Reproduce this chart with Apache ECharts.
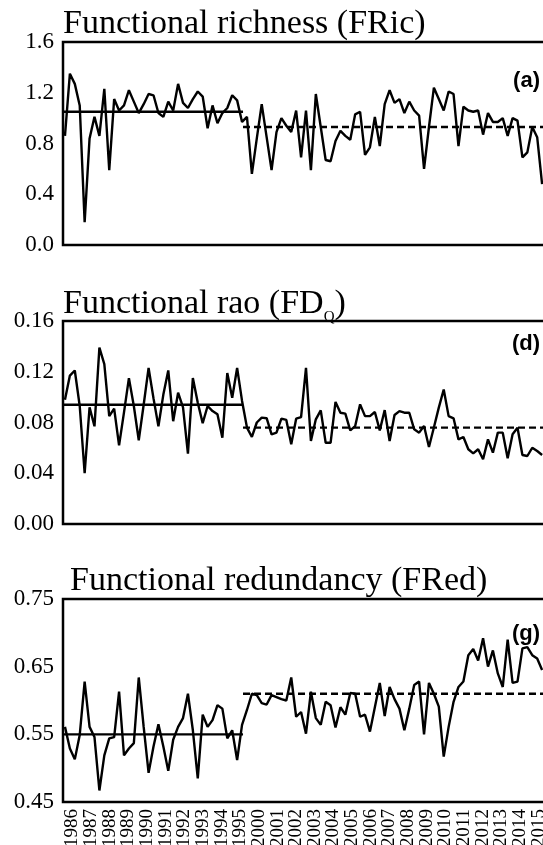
<!DOCTYPE html>
<html>
<head>
<meta charset="utf-8">
<script src="https://cdn.jsdelivr.net/npm/echarts@6/dist/echarts.min.js"></script>
<style>
  html, body { margin: 0; padding: 0; overflow: hidden; background: #fff; }
  #chart { width: 560px; height: 845px; }
</style>
</head>
<body>
<div id="chart"></div>
<script>
// Year labels along the shared time axis (sampling gap 1996-1999)
const years = ['1986','1987','1988','1989','1990','1991','1992','1993','1994','1995',
  '2000','2001','2002','2003','2004','2005','2006','2007','2008','2009',
  '2010','2011','2012','2013','2014','2015'];

// Functional richness (FRic), one value per sampling campaign
const fric = [0.86,1.35,1.27,1.10,0.18,0.84,1.01,0.86,1.23,0.59,
  1.15,1.06,1.10,1.22,1.13,1.04,1.11,1.19,1.18,1.04,
  1.01,1.13,1.06,1.27,1.12,1.08,1.15,1.21,1.17,0.92,
  1.10,0.96,1.04,1.08,1.18,1.14,0.97,1.01,0.56,0.84,
  1.11,0.85,0.59,0.89,1.00,0.94,0.89,1.06,0.69,1.06,
  0.59,1.19,0.93,0.67,0.66,0.82,0.90,0.86,0.83,1.03,
  1.05,0.71,0.77,1.01,0.78,1.11,1.22,1.12,1.15,1.04,
  1.13,1.06,1.02,0.60,0.93,1.24,1.15,1.06,1.21,1.19,
  0.78,1.09,1.06,1.05,1.06,0.87,1.04,0.97,0.97,1.00,
  0.86,1.00,0.98,0.69,0.73,0.93,0.85,0.48];

// Functional Rao's quadratic entropy (FDQ)
const fdq = [0.098,0.117,0.121,0.093,0.040,0.092,0.077,0.139,0.126,0.085,
  0.091,0.062,0.088,0.115,0.093,0.066,0.094,0.123,0.099,0.077,
  0.102,0.121,0.081,0.1035,0.092,0.0555,0.115,0.0955,0.0795,0.093,
  0.089,0.0865,0.068,0.119,0.0995,0.123,0.097,0.076,0.0686,0.080,
  0.0838,0.0834,0.0707,0.072,0.083,0.082,0.0628,0.083,0.0843,0.123,
  0.0654,0.0825,0.0896,0.064,0.064,0.0962,0.0877,0.087,0.0738,0.0772,
  0.0943,0.085,0.085,0.0883,0.0738,0.0898,0.0654,0.0859,0.089,0.0877,
  0.0877,0.0746,0.072,0.0772,0.0607,0.076,0.0917,0.106,0.085,0.0833,
  0.0667,0.0686,0.0589,0.0557,0.0589,0.051,0.0667,0.0562,0.072,0.072,
  0.0518,0.0707,0.0759,0.0544,0.0536,0.0601,0.0575,0.0544];

// Functional redundancy (FRed)
const fred = [0.561,0.529,0.513,0.549,0.628,0.561,0.546,0.467,0.519,0.544,
  0.546,0.613,0.519,0.529,0.537,0.634,0.561,0.493,0.532,0.565,
  0.532,0.496,0.542,0.561,0.574,0.610,0.556,0.485,0.579,0.561,
  0.571,0.593,0.588,0.544,0.556,0.512,0.564,0.586,0.610,0.608,
  0.596,0.594,0.608,0.605,0.602,0.600,0.634,0.576,0.583,0.551,
  0.613,0.574,0.564,0.598,0.593,0.560,0.590,0.579,0.611,0.610,
  0.576,0.579,0.554,0.590,0.626,0.577,0.620,0.602,0.588,0.556,
  0.588,0.623,0.628,0.550,0.626,0.610,0.591,0.517,0.561,0.598,
  0.620,0.628,0.667,0.676,0.659,0.692,0.650,0.674,0.640,0.620,
  0.690,0.626,0.628,0.677,0.679,0.667,0.662,0.645];

// Period means: [1986-1995, 2000-2015]
const fricMeans = [1.05, 0.93];
const fdqMeans = [0.094, 0.076];
const fredMeans = [0.55, 0.61];

// Y-axis tick values
const fricTicks = [0.0, 0.4, 0.8, 1.2, 1.6];
const fdqTicks = [0.00, 0.04, 0.08, 0.12, 0.16];
const fredTicks = [0.45, 0.55, 0.65, 0.75];

// Position (in sample index) where the first period ends
const periodBreak = 36.2;
const xMin = -0.4, xMax = 98.2;

const SERIF = '"Liberation Serif", "Times New Roman", serif';
const SANS = '"Liberation Sans", Arial, sans-serif';

const panels = [
  { title: '{t|Functional richness (FRic)}', tag: '(a)', data: fric, means: fricMeans, ticks: fricTicks, dec: 1, top: 42, titleTop: 4.5, titleLeft: 63, tagY: 81 },
  { title: '{t|Functional rao (FD}{s|Q}{t|)}', tag: '(d)', data: fdq, means: fdqMeans, ticks: fdqTicks, dec: 2, top: 321, titleTop: 284.5, titleLeft: 63, tagY: 344 },
  { title: '{t|Functional redundancy (FRed)}', tag: '(g)', data: fred, means: fredMeans, ticks: fredTicks, dec: 2, top: 599, titleTop: 561.5, titleLeft: 70, tagY: 634 }
];
const PANEL_H = 203;

const grid = [], xAxis = [], yAxis = [], series = [], title = [], graphic = [];

panels.forEach((p, i) => {
  grid.push({
    left: 63, right: 12, top: p.top, height: PANEL_H,
    containLabel: false, outerBoundsMode: 'none',
    show: true, borderColor: '#000', borderWidth: 2.5, backgroundColor: 'transparent'
  });
  xAxis.push({ type: 'value', gridIndex: i, min: xMin, max: xMax, show: false, position: 'bottom' });
  const lo = p.ticks[0], hi = p.ticks[p.ticks.length - 1];
  yAxis.push({
    type: 'value', gridIndex: i, min: lo, max: hi,
    interval: +(p.ticks[1] - p.ticks[0]).toFixed(4),
    axisLine: { show: false }, axisTick: { show: false }, splitLine: { show: false },
    axisLabel: {
      show: true, showMinLabel: true, showMaxLabel: true,
      color: '#000', fontFamily: SERIF, fontSize: 23, margin: 9,
      formatter: v => (+v).toFixed(p.dec)
    }
  });
  title.push({
    text: p.title, left: p.titleLeft, top: p.titleTop, padding: 0,
    textStyle: {
      fontWeight: 'normal',
      rich: {
        t: { fontFamily: SERIF, fontSize: 34, fontWeight: 'normal', lineHeight: 40, color: '#000' },
        s: { fontFamily: SERIF, fontSize: 15, fontWeight: 'normal', lineHeight: 22, verticalAlign: 'bottom', color: '#000' }
      }
    }
  });
  graphic.push({
    type: 'text', x: 540, y: p.tagY, z: 10,
    style: { text: p.tag, font: 'bold 22px ' + SANS, fill: '#000', textAlign: 'right', textVerticalAlign: 'middle' }
  });
  series.push({
    type: 'line', xAxisIndex: i, yAxisIndex: i, symbol: 'none', z: 3,
    data: p.data.map((v, k) => [k, v]),
    lineStyle: { color: '#000', width: 2.4 }
  });
  series.push({
    type: 'line', xAxisIndex: i, yAxisIndex: i, symbol: 'none', z: 2,
    data: [[xMin, p.means[0]], [periodBreak, p.means[0]]],
    lineStyle: { color: '#000', width: 2.4 }
  });
  series.push({
    type: 'line', xAxisIndex: i, yAxisIndex: i, symbol: 'none', z: 2,
    data: [[periodBreak, p.means[1]], [xMax, p.means[1]]],
    lineStyle: { color: '#000', width: 2.4, type: [7, 4] }
  });
});

// Year labels under the bottom panel
xAxis.push({
  type: 'category', gridIndex: 2, position: 'bottom', offset: 0, data: years, boundaryGap: true,
  axisLine: { show: false }, axisTick: { show: false }, splitLine: { show: false },
  axisLabel: { interval: 0, rotate: 90, color: '#000', fontFamily: SERIF, fontSize: 19, margin: 7 }
});

const chart = echarts.init(document.getElementById('chart'), null, { renderer: 'canvas' });
chart.setOption({
  animation: false,
  backgroundColor: '#fff',
  title, grid, xAxis, yAxis, series, graphic
});
</script>
</body>
</html>
